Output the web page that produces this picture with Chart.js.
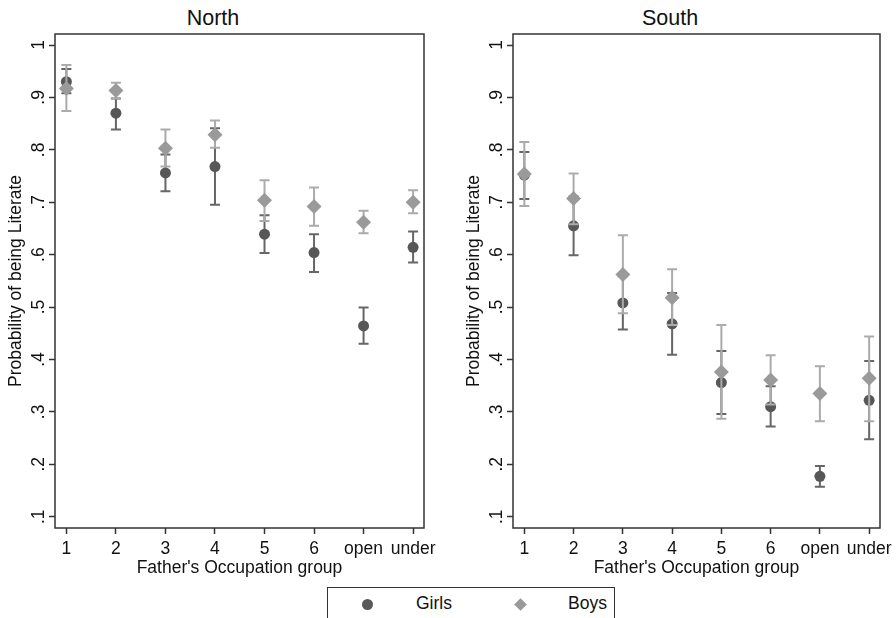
<!DOCTYPE html>
<html>
<head>
<meta charset="utf-8">
<script src="https://cdn.jsdelivr.net/npm/chart.js@4.4.0/dist/chart.umd.min.js"></script>
<style>
  body { margin: 0; background: #fff; width: 896px; height: 618px; overflow: hidden; position: relative;
         font-family: "Liberation Sans", Arial, sans-serif; color: #111; }
  canvas { position: absolute; top: 0; }
  .ttl { position: absolute; top: 5px; font-size: 21.5px; line-height: 26px; transform: translateX(-50%); white-space: nowrap; }
  #legend { position: absolute; left: 327px; top: 587px; width: 288px; height: 40px; border: 1px solid #333; box-sizing: border-box; }
  #legend span { position: absolute; top: 5px; font-size: 17.5px; line-height: 21px; }
  .dot { position: absolute; left: 34px; top: 11px; width: 11px; height: 11px; border-radius: 50%; background: #595959; }
  .dia { position: absolute; left: 188px; top: 12px; width: 9px; height: 9px; transform: rotate(45deg); background: #9a9a9a; }
</style>
</head>
<body>
<div class="ttl" style="left:213px">North</div>
<div class="ttl" style="left:670px">South</div>
<canvas id="north" width="440" height="580" style="left:0px"></canvas>
<canvas id="south" width="438" height="580" style="left:458px"></canvas>
<div id="legend">
  <div class="dot"></div><span style="left:88px">Girls</span>
  <div class="dia"></div><span style="left:240px">Boys</span>
</div>
<script>
const categories = ['1', '2', '3', '4', '5', '6', 'open', 'under'];
const yTicks = [0.1, 0.2, 0.3, 0.4, 0.5, 0.6, 0.7, 0.8, 0.9, 1];
const yLabels = ['.1', '.2', '.3', '.4', '.5', '.6', '.7', '.8', '.9', '1'];

const northGirls   = [0.930, 0.870, 0.756, 0.768, 0.639, 0.604, 0.464, 0.614];
const northGirlsLo = [0.908, 0.839, 0.721, 0.695, 0.603, 0.567, 0.430, 0.585];
const northGirlsHi = [0.954, 0.898, 0.791, 0.841, 0.675, 0.639, 0.499, 0.644];
const northBoys    = [0.917, 0.913, 0.803, 0.829, 0.704, 0.692, 0.662, 0.700];
const northBoysLo  = [0.874, 0.898, 0.768, 0.804, 0.664, 0.655, 0.641, 0.679];
const northBoysHi  = [0.962, 0.928, 0.839, 0.856, 0.742, 0.728, 0.684, 0.723];

const southGirls   = [0.752, 0.655, 0.508, 0.468, 0.356, 0.310, 0.177, 0.322];
const southGirlsLo = [0.706, 0.599, 0.457, 0.409, 0.296, 0.272, 0.157, 0.248];
const southGirlsHi = [0.796, 0.711, 0.559, 0.527, 0.416, 0.349, 0.197, 0.397];
const southBoys    = [0.754, 0.707, 0.562, 0.518, 0.376, 0.361, 0.335, 0.364];
const southBoysLo  = [0.693, 0.658, 0.488, 0.466, 0.287, 0.314, 0.282, 0.282];
const southBoysHi  = [0.815, 0.755, 0.637, 0.572, 0.466, 0.408, 0.387, 0.444];

const FONT = "'Liberation Sans', Arial, sans-serif";
const INK = '#111';

// caps + whiskers, drawn just before each dataset's markers
const errorBars = {
    id: 'errorBars',
    beforeDatasetDraw(chart, args) {
        const ds = chart.data.datasets[args.index];
        const {x, y} = chart.scales;
        const ctx = chart.ctx;
        ctx.save();
        ctx.strokeStyle = ds.errColor;
        ctx.lineWidth = 2;
        ds.errLo.forEach((lo, i) => {
            const px = x.getPixelForValue(i + 1);
            const y1 = y.getPixelForValue(lo);
            const y2 = y.getPixelForValue(ds.errHi[i]);
            ctx.beginPath();
            ctx.moveTo(px, y1); ctx.lineTo(px, y2);
            ctx.moveTo(px - 5, y1); ctx.lineTo(px + 5, y1);
            ctx.moveTo(px - 5, y2); ctx.lineTo(px + 5, y2);
            ctx.stroke();
        });
        ctx.restore();
    }
};

const plotBox = {
    id: 'plotBox',
    afterDraw(chart) {
        const a = chart.chartArea;
        const ctx = chart.ctx;
        ctx.save();
        ctx.strokeStyle = '#333';
        ctx.lineWidth = 1.5;
        ctx.strokeRect(a.left, a.top, a.right - a.left, a.bottom - a.top);
        ctx.restore();
    }
};

function panel(id, girls, gLo, gHi, boys, bLo, bHi) {
    const toPts = arr => arr.map((v, i) => ({x: i + 1, y: v}));
    new Chart(document.getElementById(id), {
        type: 'scatter',
        plugins: [errorBars, plotBox],
        data: {
            datasets: [
                {
                    label: 'Girls',
                    data: toPts(girls),
                    errLo: gLo, errHi: gHi, errColor: '#666666',
                    pointStyle: 'circle',
                    pointRadius: 5.5,
                    backgroundColor: '#575757',
                    borderWidth: 0,
                    order: 2
                },
                {
                    label: 'Boys',
                    data: toPts(boys),
                    errLo: bLo, errHi: bHi, errColor: '#ababab',
                    pointStyle: 'rectRot',
                    pointRadius: 7.5,
                    backgroundColor: '#9a9a9a',
                    borderWidth: 0,
                    order: 1
                }
            ]
        },
        options: {
            responsive: false,
            animation: false,
            devicePixelRatio: 1,
            layout: { padding: {top: 34, right: 16, bottom: 0, left: 0} },
            plugins: { legend: {display: false}, tooltip: {enabled: false} },
            scales: {
                x: {
                    type: 'linear',
                    min: 0.77,
                    max: 8.22,
                    afterBuildTicks: s => { s.ticks = categories.map((c, i) => ({value: i + 1})); },
                    afterFit: s => { s.height = 52; s.paddingLeft = 0; s.paddingRight = 0; },
                    grid: { drawOnChartArea: false, tickLength: 6, tickColor: '#333', tickWidth: 1.5 },
                    border: { display: false },
                    ticks: {
                        autoSkip: false,
                        maxRotation: 0,
                        padding: 5,
                        color: INK,
                        font: {family: FONT, size: 17.5},
                        callback: (v, i) => categories[i]
                    },
                    title: {
                        display: true,
                        text: "Father's Occupation group",
                        color: INK,
                        font: {family: FONT, size: 17.5},
                        padding: {top: 0, bottom: 1}
                    }
                },
                y: {
                    min: 0.0785,
                    max: 1.021,
                    afterBuildTicks: s => { s.ticks = yTicks.map(v => ({value: v})); },
                    afterFit: s => { s.width = 55; s.paddingTop = 0; s.paddingBottom = 0; },
                    grid: { drawOnChartArea: false, tickLength: 6, tickColor: '#333', tickWidth: 1.5 },
                    border: { display: false },
                    ticks: {
                        minRotation: 90,
                        maxRotation: 90,
                        crossAlign: 'center',
                        padding: 3,
                        color: INK,
                        font: {family: FONT, size: 17.5},
                        callback: (v, i) => yLabels[i]
                    },
                    title: {
                        display: true,
                        text: 'Probability of being Literate',
                        color: INK,
                        font: {family: FONT, size: 17.5},
                        padding: {top: 6, bottom: 0}
                    }
                }
            }
        }
    });
}

panel('north', northGirls, northGirlsLo, northGirlsHi, northBoys, northBoysLo, northBoysHi);
panel('south', southGirls, southGirlsLo, southGirlsHi, southBoys, southBoysLo, southBoysHi);
</script>
</body>
</html>
